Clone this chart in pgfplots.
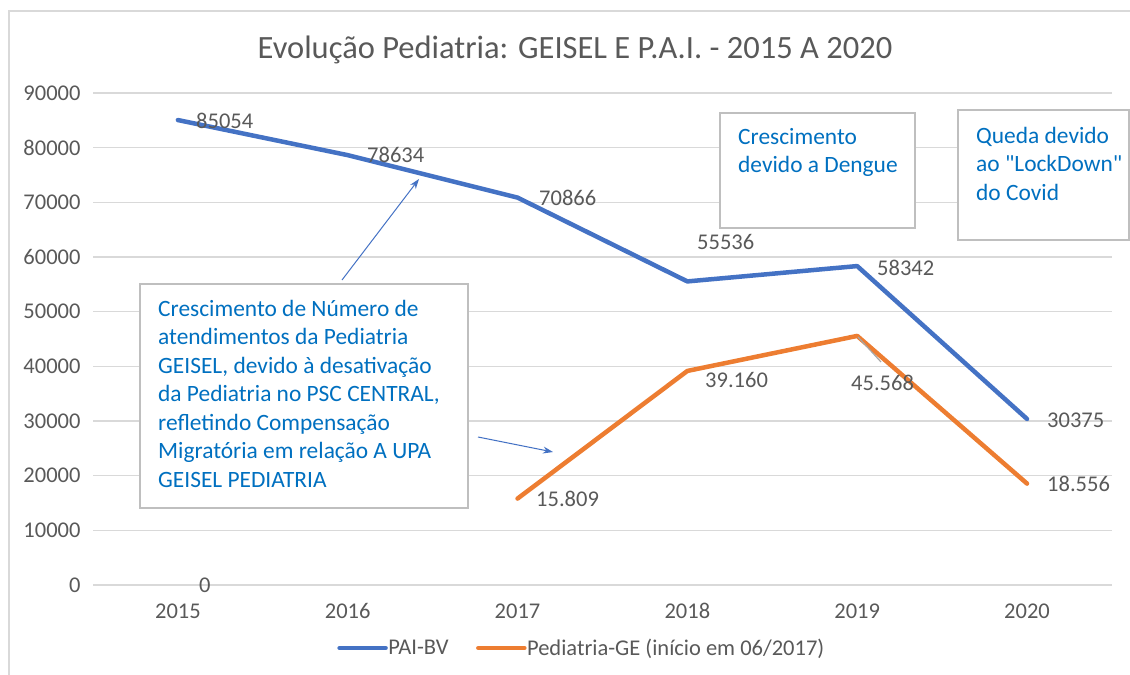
\documentclass[border=0pt]{standalone}
\usepackage{pgfplots}
\pgfplotsset{compat=1.18}
\usepackage{fontspec}
\setmainfont{Carlito}[Ligatures=TeXOff]
\usetikzlibrary{arrows.meta}
\definecolor{txtgray}{HTML}{595959}
\definecolor{gridgray}{HTML}{D9D9D9}
\definecolor{boxgray}{HTML}{BFBFBF}
\definecolor{serblue}{HTML}{4472C4}
\definecolor{serorange}{HTML}{ED7D31}
\definecolor{notetxt}{HTML}{0070C0}
\begin{document}
\begin{tikzpicture}
\useasboundingbox (0bp,0bp) rectangle (1130bp,-675bp);
\draw[gridgray, line width=1.5bp] (9bp,-675bp) -- (9bp,-11bp) -- (1130bp,-11bp);
\node[txtgray, font=\fontsize{32.5bp}{38bp}\selectfont] at (575bp,-50bp) {Evolução Pediatria: GEISEL E P.A.I. - 2015 A 2020};
\begin{axis}[
  at={(93bp,-585bp)}, anchor=south west,
  scale only axis, width=1019bp, height=492bp,
  xmin=-0.5, xmax=5.5, ymin=0, ymax=90000,
  xtick={0,1,2,3,4,5}, xticklabels={2015,2016,2017,2018,2019,2020},
  ytick={0,10000,20000,30000,40000,50000,60000,70000,80000,90000},
  scaled y ticks=false,
  /pgf/number format/.cd, fixed, 1000 sep={}, assume math mode=true, /pgfplots/.cd,
  ymajorgrids, grid style={gridgray, line width=1.3bp},
  axis line style={draw=none}, major tick style={draw=none},
  tick label style={txtgray, font=\fontsize{22.5bp}{26bp}\selectfont},
  yticklabel style={xshift=-9bp},
  xticklabel style={yshift=-14bp, text height=16bp, text depth=0bp},
  clip=false,
  legend style={at={(0.479,-0.128)}, anchor=center, legend columns=2, draw=none,
    font=\fontsize{22.5bp}{26bp}\selectfont, text=txtgray,
    /tikz/every even column/.append style={column sep=27bp},
    nodes={inner sep=0.5bp}},
  legend image code/.code={\draw[#1, line cap=round] (0bp,0bp) -- (46bp,0bp);},
]
\addplot[serblue, line width=4.5bp, line join=round, line cap=round] coordinates {
(0,85054) (1,78634) (2,70866) (3,55536) (4,58342) (5,30375)};
\addlegendentry{PAI-BV}
\addplot[serorange, line width=4.5bp, line join=round, line cap=round] coordinates {
(2,15809) (3,39160) (4,45568) (5,18556)};
\addlegendentry{Pediatria-GE (início em 06/2017)}
\end{axis}
% leader line
\draw[gray!70, line width=1.2bp] (858bp,-337bp) -- (881bp,-362bp);
% data labels
\begin{scope}[every node/.style={txtgray, font=\fontsize{22.5bp}{26bp}\selectfont, anchor=west, inner sep=0pt}]
\node at (196bp,-121bp) {85054};
\node at (367bp,-155bp) {78634};
\node at (539bp,-198bp) {70866};
\node at (697bp,-242bp) {55536};
\node at (877bp,-268bp) {58342};
\node at (1047bp,-420bp) {30375};
\node at (536bp,-499bp) {15.809};
\node at (705bp,-380bp) {39.160};
\node at (851bp,-383bp) {45.568};
\node at (1047bp,-484bp) {18.556};
\node at (199bp,-585bp) {0};
\end{scope}
% note boxes
\draw[boxgray, line width=2bp, fill=white] (140bp,-284bp) rectangle (468bp,-508bp);
\draw[boxgray, line width=2bp, fill=white] (720bp,-113bp) rectangle (915bp,-228bp);
\draw[boxgray, line width=2bp, fill=white] (958bp,-110bp) rectangle (1129bp,-240bp);
\begin{scope}[every node/.style={notetxt, font=\fontsize{23.4bp}{28.5bp}\selectfont, anchor=north west, inner sep=0pt, align=left}]
\node at (158bp,-300bp) {Crescimento de Número de\\atendimentos da Pediatria\\GEISEL, devido à desativação\\da Pediatria no PSC CENTRAL,\\refletindo Compensação\\Migratória em relação A UPA\\GEISEL PEDIATRIA};
\node at (738bp,-128bp) {Crescimento\\devido a Dengue};
\node at (976bp,-127bp) {Queda devido\\ao "LockDown"\\do Covid};
\end{scope}
% arrows
\draw[serblue, line width=1bp, -{Stealth[length=10bp,width=7bp]}] (342bp,-280bp) -- (419bp,-179bp);
\draw[serblue, line width=1bp, -{Stealth[length=10bp,width=7bp]}] (478bp,-437bp) -- (553bp,-452bp);
\end{tikzpicture}
\end{document}
